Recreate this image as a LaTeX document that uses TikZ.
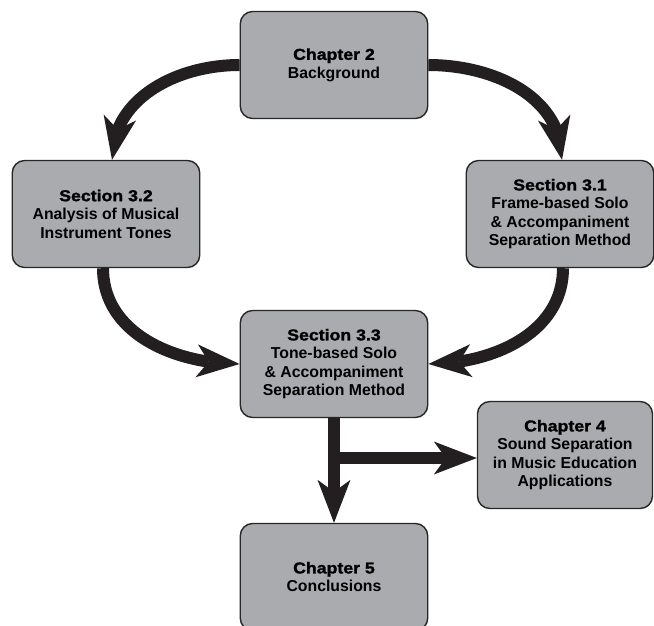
\documentclass[tikz,border=0pt]{standalone}
\usepackage{fontspec}
\setmainfont{Liberation Sans}
\newfontfamily\headfont{Liberation Sans Bold}[FakeBold=1.5, FakeStretch=1.12]
\usepackage{xcolor}
\usepackage{tikz}
\usetikzlibrary{calc, arrows.meta, bending, positioning}

\definecolor{boxgray}{RGB}{169,171,174}
\definecolor{inkblack}{RGB}{35,31,32}

\tikzset{
    chapbox/.style={draw=black!85, line width=0.8pt, fill=boxgray, rounded corners=7pt,
        align=center, inner sep=0pt, minimum width=3.75cm, minimum height=2.14cm,
        font=\fontsize{9}{10.5}\selectfont\bfseries},
    flow/.style={draw=inkblack, line width=0.24cm,
        -{Stealth[length=0.86cm, width=0.66cm, inset=0.24cm, line width=0pt, fill=inkblack]}}
}

\begin{document}
\begin{tikzpicture}[x=0.02cm, y=-0.02cm]
    \useasboundingbox (0,0) rectangle (654,626);

    % 1. Các khối chương / mục
    \node[chapbox] (ch2) at (334, 65) {{\headfont Chapter 2}\\Background};
    \node[chapbox] (s32) at (106, 214) {{\headfont Section 3.2}\\Analysis of Musical\\Instrument Tones};
    \node[chapbox] (s31) at (560, 214) {{\headfont Section 3.1}\\Frame-based Solo\\\& Accompaniment\\Separation Method};
    \node[chapbox] (s33) at (334, 364) {{\headfont Section 3.3}\\Tone-based Solo\\\& Accompaniment\\Separation Method};
    \node[chapbox, minimum width=3.5cm] (ch4) at (565, 455) {{\headfont Chapter 4}\\Sound Separation\\in Music Education\\Applications};
    \node[chapbox] (ch5) at (334, 577) {{\headfont Chapter 5}\\Conclusions};

    % 2. Mũi tên cong từ Chapter 2 xuống hai mục
    \draw[flow] (ch2.west) to[out=180, in=90] ($(s32.north)+(6,0)$);
    \draw[flow] (ch2.east) to[out=0, in=90] ($(s31.north)+(2,0)$);

    % 3. Mũi tên cong hội tụ vào Section 3.3
    \draw[flow] ($(s32.south)+(-3,0)$) to[out=-90, in=180] (s33.west);
    \draw[flow] ($(s31.south)+(3,0)$) to[out=-90, in=0] (s33.east);

    % 4. Nhánh xuống Chapter 5 và sang Chapter 4
    \coordinate (fork) at ($(s33.south |- ch4.west)+(0,3)$);
    \draw[flow] (s33.south) -- (ch5.north);
    \draw[flow] (fork) -- (fork -| ch4.west);

\end{tikzpicture}
\end{document}
